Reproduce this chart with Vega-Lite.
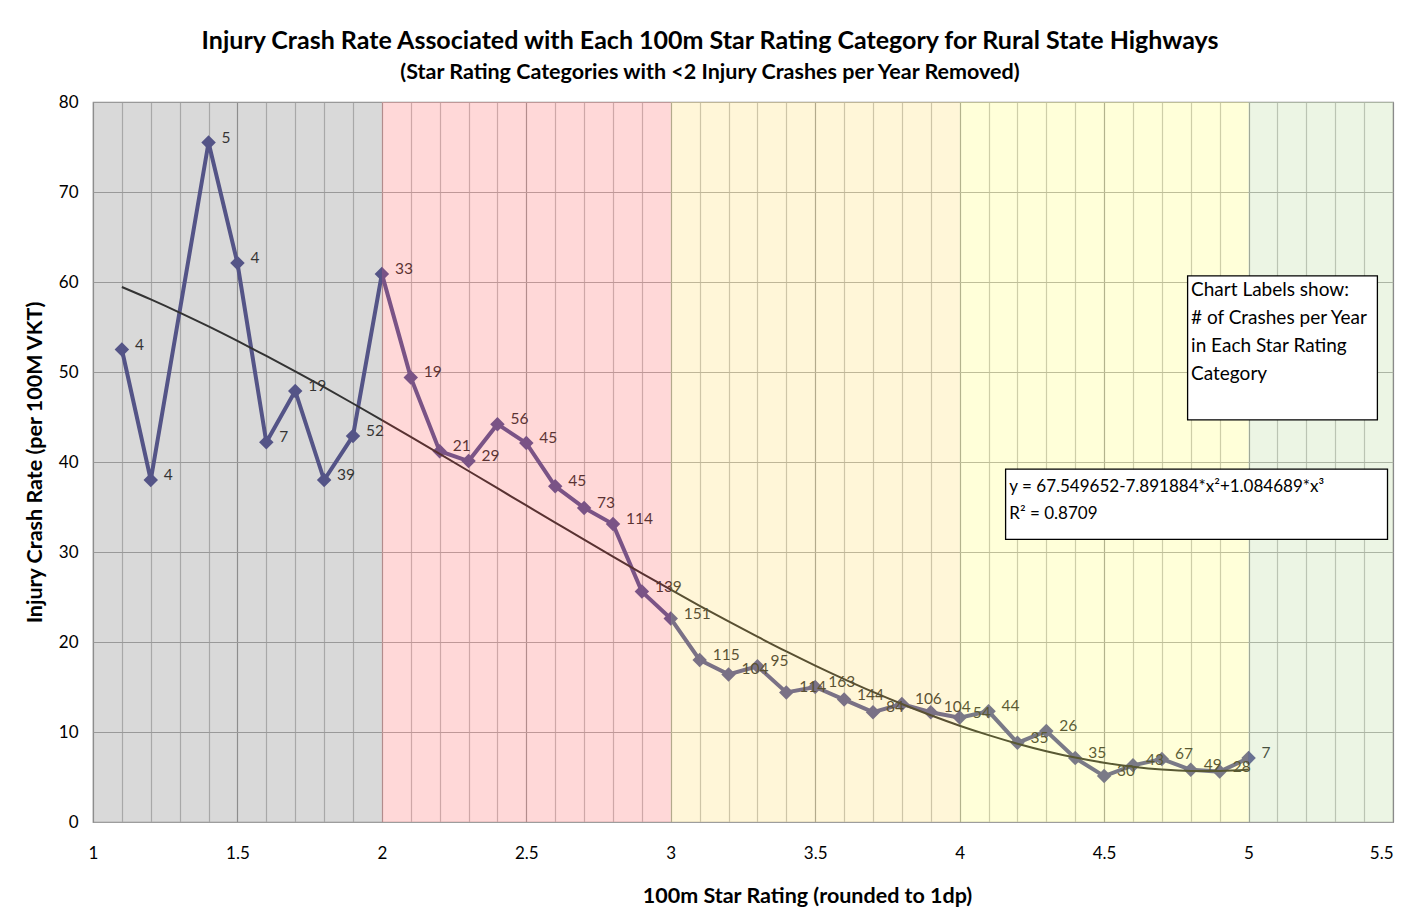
{
  "$schema": "https://vega.github.io/schema/vega-lite/v6.json",
  "width": 1300,
  "height": 720,
  "autosize": {"type": "none"},
  "padding": {"left": 93, "top": 102, "right": 10, "bottom": 101},
  "background": "white",
  "view": {"stroke": "#8a8a8a", "strokeWidth": 1.2},
  "config": {"font": "Lato"},
  "title": {
    "text": "Injury Crash Rate Associated with Each 100m Star Rating Category for Rural State Highways",
    "subtitle": "(Star Rating Categories with <2 Injury Crashes per Year Removed)",
    "font": "Lato", "fontSize": 25, "fontWeight": "bold", "color": "black",
    "subtitleFont": "Lato", "subtitleFontSize": 21.5, "subtitleFontWeight": "bold", "subtitleColor": "black",
    "anchor": "middle", "dx": -33, "offset": 10, "subtitlePadding": 8
  },
  "datasets": {
    "pts": [
      {"rating": 1.1, "rate": 52.5, "crashes": 4},
      {"rating": 1.2, "rate": 38.0, "crashes": 4},
      {"rating": 1.4, "rate": 75.5, "crashes": 5},
      {"rating": 1.5, "rate": 62.1, "crashes": 4},
      {"rating": 1.6, "rate": 42.2, "crashes": 7},
      {"rating": 1.7, "rate": 47.9, "crashes": 19},
      {"rating": 1.8, "rate": 38.0, "crashes": 39},
      {"rating": 1.9, "rate": 42.9, "crashes": 52},
      {"rating": 2.0, "rate": 60.9, "crashes": 33},
      {"rating": 2.1, "rate": 49.4, "crashes": 19},
      {"rating": 2.2, "rate": 41.2, "crashes": 21},
      {"rating": 2.3, "rate": 40.1, "crashes": 29},
      {"rating": 2.4, "rate": 44.2, "crashes": 56},
      {"rating": 2.5, "rate": 42.1, "crashes": 45},
      {"rating": 2.6, "rate": 37.3, "crashes": 45},
      {"rating": 2.7, "rate": 34.9, "crashes": 73},
      {"rating": 2.8, "rate": 33.1, "crashes": 114},
      {"rating": 2.9, "rate": 25.6, "crashes": 139},
      {"rating": 3.0, "rate": 22.6, "crashes": 151},
      {"rating": 3.1, "rate": 18.0, "crashes": 115},
      {"rating": 3.2, "rate": 16.4, "crashes": 104},
      {"rating": 3.3, "rate": 17.3, "crashes": 95},
      {"rating": 3.4, "rate": 14.4, "crashes": 114},
      {"rating": 3.5, "rate": 15.0, "crashes": 163},
      {"rating": 3.6, "rate": 13.6, "crashes": 144},
      {"rating": 3.7, "rate": 12.2, "crashes": 84},
      {"rating": 3.8, "rate": 13.1, "crashes": 106},
      {"rating": 3.9, "rate": 12.2, "crashes": 104},
      {"rating": 4.0, "rate": 11.6, "crashes": 54},
      {"rating": 4.1, "rate": 12.3, "crashes": 44},
      {"rating": 4.2, "rate": 8.8, "crashes": 35},
      {"rating": 4.3, "rate": 10.1, "crashes": 26},
      {"rating": 4.4, "rate": 7.1, "crashes": 35},
      {"rating": 4.5, "rate": 5.1, "crashes": 30},
      {"rating": 4.6, "rate": 6.3, "crashes": 43},
      {"rating": 4.7, "rate": 7.0, "crashes": 67},
      {"rating": 4.8, "rate": 5.8, "crashes": 49},
      {"rating": 4.9, "rate": 5.6, "crashes": 28},
      {"rating": 5.0, "rate": 7.1, "crashes": 7}
    ],
    "trend": [
      {"rating": 1.1, "fit": 59.44}, {"rating": 1.2, "fit": 58.06}, {"rating": 1.3, "fit": 56.60},
      {"rating": 1.4, "fit": 55.06}, {"rating": 1.5, "fit": 53.45}, {"rating": 1.6, "fit": 51.79},
      {"rating": 1.7, "fit": 50.07}, {"rating": 1.8, "fit": 48.31}, {"rating": 1.9, "fit": 46.50},
      {"rating": 2.0, "fit": 44.66}, {"rating": 2.1, "fit": 42.79}, {"rating": 2.2, "fit": 40.90},
      {"rating": 2.3, "fit": 39.00}, {"rating": 2.4, "fit": 37.09}, {"rating": 2.5, "fit": 35.17},
      {"rating": 2.6, "fit": 33.27}, {"rating": 2.7, "fit": 31.37}, {"rating": 2.8, "fit": 29.49},
      {"rating": 2.9, "fit": 27.63}, {"rating": 3.0, "fit": 25.81}, {"rating": 3.1, "fit": 24.02},
      {"rating": 3.2, "fit": 22.28}, {"rating": 3.3, "fit": 20.59}, {"rating": 3.4, "fit": 18.95},
      {"rating": 3.5, "fit": 17.38}, {"rating": 3.6, "fit": 15.88}, {"rating": 3.7, "fit": 14.45},
      {"rating": 3.8, "fit": 13.11}, {"rating": 3.9, "fit": 11.86}, {"rating": 4.0, "fit": 10.70},
      {"rating": 4.1, "fit": 9.65}, {"rating": 4.2, "fit": 8.70}, {"rating": 4.3, "fit": 7.87},
      {"rating": 4.4, "fit": 7.16}, {"rating": 4.5, "fit": 6.58}, {"rating": 4.6, "fit": 6.14},
      {"rating": 4.7, "fit": 5.83}, {"rating": 4.8, "fit": 5.68}, {"rating": 4.9, "fit": 5.68},
      {"rating": 5.0, "fit": 5.84}
    ],
    "bands": [
      {"band": "1-2", "from": 1, "to": 2},
      {"band": "2-3", "from": 2, "to": 3},
      {"band": "3-4", "from": 3, "to": 4},
      {"band": "4-5", "from": 4, "to": 5},
      {"band": "5+", "from": 5, "to": 5.5}
    ]
  },
  "layer": [
    {
      "data": {"name": "pts"},
      "mark": {"type": "line", "color": "#343481", "strokeWidth": 4},
      "encoding": {
        "x": {
          "field": "rating", "type": "quantitative",
          "scale": {"domain": [1, 5.5], "nice": false, "zero": false},
          "title": "100m Star Rating (rounded to 1dp)",
          "axis": {
            "values": [1,1.1,1.2,1.3,1.4,1.5,1.6,1.7,1.8,1.9,2,2.1,2.2,2.3,2.4,2.5,2.6,2.7,2.8,2.9,3,3.1,3.2,3.3,3.4,3.5,3.6,3.7,3.8,3.9,4,4.1,4.2,4.3,4.4,4.5,4.6,4.7,4.8,4.9,5,5.1,5.2,5.3,5.4,5.5],
            "tickCount": 200,
            "labelExpr": "abs(round(datum.value*2)-datum.value*2)<0.001 ? format(datum.value,'~g') : ''",
            "labelOverlap": false, "labelFlush": false,
            "labelAlign": {"condition": {"test": "datum.value > 5.45", "value": "right"}, "value": "center"},
            "gridColor": {"condition": {"test": "abs(round(datum.value*2)-datum.value*2)<0.001", "value": "#8a8a8a"}, "value": "#b4b4b4"},
            "gridWidth": 1.2,
            "ticks": false, "domain": false,
            "labelFont": "Lato", "labelFontSize": 17, "labelColor": "black", "labelPadding": 23,
            "titleFont": "Lato", "titleFontSize": 21.5, "titleFontWeight": "bold", "titleColor": "black", "titlePadding": 24,
            "titleX": 714
          }
        },
        "y": {
          "field": "rate", "type": "quantitative",
          "scale": {"domain": [0, 80], "nice": false},
          "title": "Injury Crash Rate (per 100M VKT)",
          "axis": {
            "values": [0,10,20,30,40,50,60,70,80],
            "gridColor": "#9d9d9d", "gridWidth": 1.2,
            "ticks": false, "domain": false,
            "labelFont": "Lato", "labelFontSize": 17, "labelColor": "black", "labelPadding": 15,
            "titleFont": "Lato", "titleFontSize": 21.5, "titleFontWeight": "bold", "titleColor": "black", "titlePadding": 12
          }
        }
      }
    },
    {
      "data": {"name": "pts"},
      "mark": {"type": "point", "shape": "diamond", "filled": true, "color": "#343481", "size": 210, "opacity": 1},
      "encoding": {
        "x": {"field": "rating", "type": "quantitative"},
        "y": {"field": "rate", "type": "quantitative"}
      }
    },
    {
      "data": {"name": "trend"},
      "mark": {"type": "line", "color": "black", "strokeWidth": 2, "interpolate": "monotone"},
      "encoding": {
        "x": {"field": "rating", "type": "quantitative"},
        "y": {"field": "fit", "type": "quantitative"}
      }
    },
    {
      "data": {"name": "pts"},
      "mark": {"type": "text", "align": "left", "baseline": "middle", "dx": 13, "dy": -5, "font": "Lato", "fontSize": 15.5, "color": "black"},
      "encoding": {
        "x": {"field": "rating", "type": "quantitative"},
        "y": {"field": "rate", "type": "quantitative"},
        "text": {"field": "crashes", "type": "quantitative"}
      }
    },
    {
      "data": {"name": "bands"},
      "mark": {"type": "rect", "opacity": 0.35},
      "encoding": {
        "x": {"field": "from", "type": "quantitative"},
        "x2": {"field": "to"},
        "y": {"datum": 0},
        "y2": {"datum": 80},
        "color": {
          "field": "band", "type": "nominal", "legend": null,
          "scale": {"domain": ["1-2", "2-3", "3-4", "4-5", "5+"], "range": ["#929292", "#ff9090", "#ffe590", "#ffff92", "#c9e2b2"]}
        }
      }
    },
    {
      "data": {"values": [{}]},
      "mark": {"type": "rect", "fill": "white", "stroke": "black", "strokeWidth": 1.3},
      "encoding": {
        "x": {"datum": 4.789}, "x2": {"datum": 5.446},
        "y": {"datum": 60.67}, "y2": {"datum": 44.67}
      }
    },
    {
      "data": {"values": [{}]},
      "mark": {"type": "text", "align": "left", "baseline": "middle", "font": "Lato", "fontSize": 19, "lineHeight": 28, "color": "black",
        "text": ["Chart Labels show:", "# of Crashes per Year", "in Each Star Rating", "Category"]},
      "encoding": {
        "x": {"datum": 4.801}, "y": {"datum": 59.11}
      }
    },
    {
      "data": {"values": [{}]},
      "mark": {"type": "rect", "fill": "white", "stroke": "black", "strokeWidth": 1.3},
      "encoding": {
        "x": {"datum": 4.159}, "x2": {"datum": 5.481},
        "y": {"datum": 39.2}, "y2": {"datum": 31.4}
      }
    },
    {
      "data": {"values": [{}]},
      "mark": {"type": "text", "align": "left", "baseline": "middle", "font": "Lato", "fontSize": 17, "lineHeight": 27, "color": "black",
        "text": ["y = 67.549652-7.891884*x²+1.084689*x³", "R² = 0.8709"]},
      "encoding": {
        "x": {"datum": 4.172}, "y": {"datum": 37.22}
      }
    }
  ]
}
